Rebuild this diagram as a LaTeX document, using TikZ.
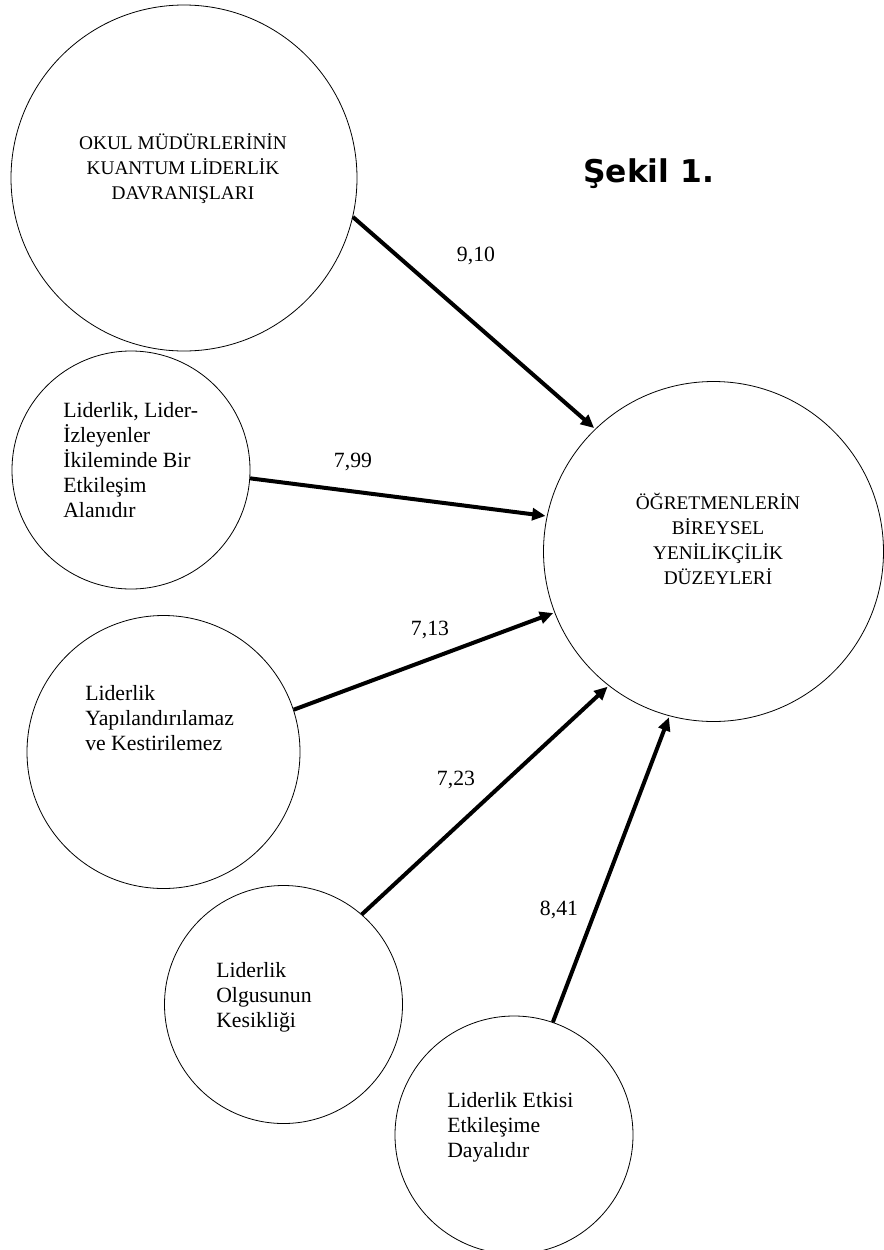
\documentclass[tikz,border=0pt]{standalone}
\usepackage{fontspec}
\setmainfont{Liberation Serif}
\newfontfamily\headfont{DejaVu Sans}
\usetikzlibrary{arrows.meta}
\tikzset{
  circ/.style={draw, circle, line width=0.6pt, inner sep=0pt},
  captxt/.style={align=center, inner sep=0pt, font=\fontsize{14.5}{18.75}\selectfont},
  lowtxt/.style={align=left, anchor=west, inner sep=0pt, font=\fontsize{16.3}{18.75}\selectfont},
  numtxt/.style={inner sep=0pt, font=\fontsize{16.3}{18.75}\selectfont},
  arr/.style={line width=3pt, -{Triangle[length=10pt,width=9pt]}, shorten >=1pt}
}
\begin{document}
\begin{tikzpicture}[x=0.75pt,y=-0.75pt]
\useasboundingbox (0,0) rectangle (883,1250);
% circles
\node[circ, minimum size=259.5pt] (c1) at (184,178) {};
\node[circ, minimum size=178.5pt] (c2) at (131,470) {};
\node[circ, minimum size=204.75pt] (c3) at (163.5,752) {};
\node[circ, minimum size=178.5pt] (c4) at (283.5,1004.5) {};
\node[circ, minimum size=178.5pt] (c5) at (514,1135) {};
\node[circ, minimum size=255pt] (c6) at (713.5,551.5) {};
% texts
\node[captxt] (t1) at (183,169) {OKUL MÜDÜRLERİNİN\\KUANTUM LİDERLİK\\DAVRANIŞLARI};
\node[lowtxt] (t2) at (63,460) {Liderlik, Lider-\\İzleyenler\\İkileminde Bir\\Etkileşim\\Alanıdır};
\node[lowtxt] (t3) at (85,718) {Liderlik\\Yapılandırılamaz\\ve Kestirilemez};
\node[lowtxt] (t4) at (216,997) {Liderlik\\Olgusunun\\Kesikliği};
\node[lowtxt] (t5) at (447,1127) {Liderlik Etkisi\\Etkileşime\\Dayalıdır};
\node[captxt] (t6) at (718,539) {ÖĞRETMENLERİN\\BİREYSEL\\YENİLİKÇİLİK\\DÜZEYLERİ};
% title
\node[anchor=base west, inner sep=0pt, font=\headfont\bfseries\fontsize{23.5}{28}\selectfont] (title) at (583,182) {Şekil 1.};
% arrows
\draw[arr] (c1.-13) -- (c6.134);
\draw[arr] (c2.-4.7) -- (c6.168);
\draw[arr] (c3.18.4) -- (c6.201.7);
\draw[arr] (c4.49.2) -- (c6.232);
\draw[arr] (c5.71.7) -- (c6.255.5);
% labels
\node[numtxt] (l1) at (476,256) {9,10};
\node[numtxt] (l2) at (353,462) {7,99};
\node[numtxt] (l3) at (430,630) {7,13};
\node[numtxt] (l4) at (456,780) {7,23};
\node[numtxt] (l5) at (559,910) {8,41};
\end{tikzpicture}
\end{document}
